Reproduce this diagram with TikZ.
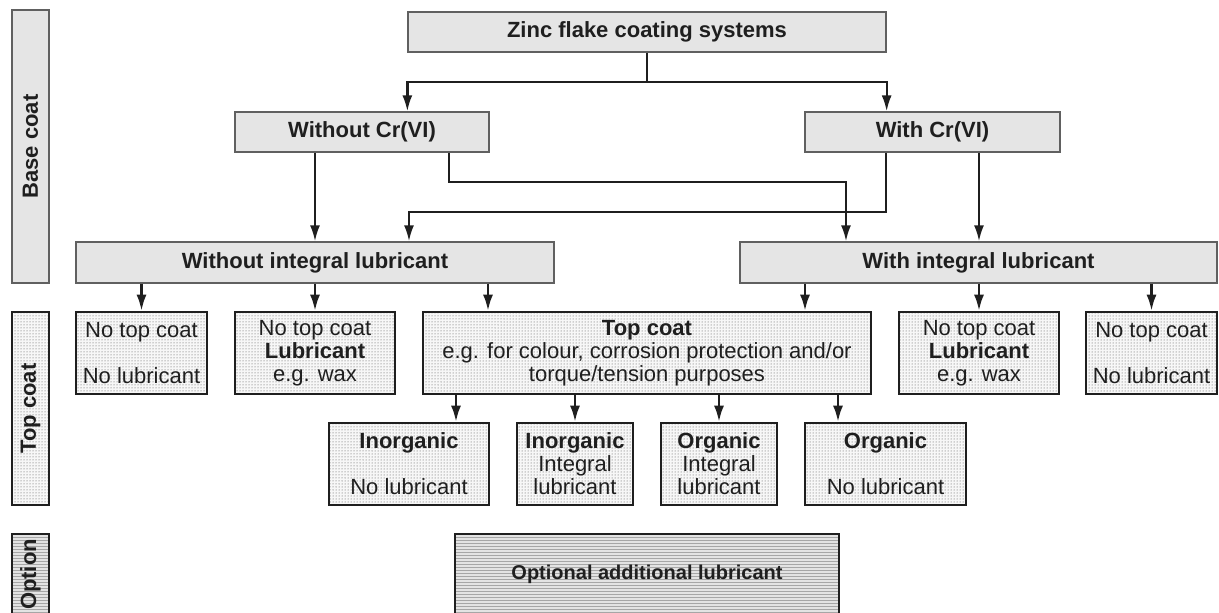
\documentclass[tikz,border=0pt]{standalone}
\usepackage{fontspec}
\setmainfont{Liberation Sans}
\usetikzlibrary{arrows.meta,patterns}
\begin{document}
\begin{tikzpicture}[x=1pt,y=-1pt,
  basebox/.style={draw=gray!75!black, line width=1.3pt, fill=gray!20, minimum height=40pt, inner sep=0pt,
    font=\fontsize{22}{23}\selectfont\bfseries, text=black!88},
  topbox/.style={draw=black!88, line width=2.6pt, preaction={fill=gray!6}, pattern=dots, pattern color=black!70,
    minimum height=82pt, inner sep=0pt, align=center, font=\fontsize{22}{23}\selectfont, text=black!88},
  optbox/.style={draw=black!88, line width=2.6pt, preaction={fill=gray!22}, pattern=horizontal lines,
    pattern color=black!35, inner sep=0pt, font=\fontsize{20}{22}\selectfont\bfseries, text=black!88},
  sidelabel/.style={rotate=90, minimum height=37pt, inner sep=0pt, font=\fontsize{22}{23}\selectfont\bfseries, text=black!88},
  conn/.style={line width=2.3pt, draw=black!88},
  arr/.style={conn, -{Latex[length=16pt,width=10pt]}}
]
\useasboundingbox (0,0) rectangle (1219,613);
\clip (0,0) rectangle (1219,613);

% side labels
\node[sidelabel, basebox, minimum width=273pt, minimum height=37pt] (sBase) at (30.5,146.5) {Base coat};
\node[sidelabel, topbox, minimum width=193pt, minimum height=37pt] (sTop) at (30.5,408.5) {\bfseries Top coat};
\node[sidelabel, optbox, minimum width=81pt, minimum height=37pt, font=\fontsize{22}{23}\selectfont\bfseries] (sOpt) at (30.5,574.5) {Option};

% base coat level
\node[basebox, minimum width=478pt] (zinc) at (647,32) {Zinc flake coating systems};
\node[basebox, minimum width=254pt] (woCr) at (362,132) {Without Cr(VI)};
\node[basebox, minimum width=255pt] (wCr) at (932.5,132) {With Cr(VI)};
\node[basebox, minimum width=478pt, minimum height=41pt] (woInt) at (315,262.5) {Without integral lubricant};
\node[basebox, minimum width=477pt, minimum height=41pt] (wInt) at (978.5,262.5) {With integral lubricant};

% top coat level
\node[topbox, minimum width=131pt] (nt1) at (141.5,353) {No top coat\\[23pt]No lubricant};
\node[topbox, minimum width=160pt] (nt2) at (315,353) {No top coat\\\textbf{Lubricant}\\e.g. wax};
\node[topbox, minimum width=448pt] (tc) at (647,353) {\textbf{Top coat}\\e.g. for colour, corrosion protection and/or\\torque/tension purposes};
\node[topbox, minimum width=160pt] (nt3) at (979,353) {No top coat\\\textbf{Lubricant}\\e.g. wax};
\node[topbox, minimum width=131pt] (nt4) at (1151.5,353) {No top coat\\[23pt]No lubricant};

\node[topbox, minimum width=160pt] (inNo) at (409,464) {\textbf{Inorganic}\\[23pt]No lubricant};
\node[topbox, minimum width=116pt] (inInt) at (575,464) {\textbf{Inorganic}\\Integral\\lubricant};
\node[topbox, minimum width=116pt] (orInt) at (719,464) {\textbf{Organic}\\Integral\\lubricant};
\node[topbox, minimum width=161pt] (orNo) at (885.5,464) {\textbf{Organic}\\[23pt]No lubricant};

% option level
\node[optbox, minimum width=384pt, minimum height=81pt] (opt) at (647,574.5) {Optional additional lubricant};

% helper coordinates
\coordinate (j1) at (647,82);
\coordinate (k1) at (449,182);
\coordinate (k2) at (846,182);
\coordinate (k3) at (409,212);
\coordinate (k4) at (886,212);
\coordinate (m1) at (488,0);
\coordinate (m2) at (805,0);
\coordinate (p1) at (456,0);
\coordinate (p4) at (838,0);

% connectors
\draw[conn] (zinc.south) -- (j1);
\draw[arr] (j1) -| (woCr.north -| zinc.west);
\draw[arr] (j1) -| (wCr.north -| zinc.east);

\draw[arr] (woCr.south -| woInt.north) -- (woInt.north);
\draw[arr] (woCr.south -| k1) -- (k1) -- (k2) -- (wInt.north -| k2);
\draw[arr] (wCr.south -| k4) -- (k4) -- (k3) -- (woInt.north -| k3);
\draw[arr] (wCr.south -| nt3.north) -- (wInt.north -| nt3.north);

\draw[arr] (woInt.south -| nt1.north) -- (nt1.north);
\draw[arr] (woInt.south -| nt2.north) -- (nt2.north);
\draw[arr] (woInt.south -| m1) -- (tc.north -| m1);
\draw[arr] (wInt.south -| m2) -- (tc.north -| m2);
\draw[arr] (wInt.south -| nt3.north) -- (nt3.north);
\draw[arr] (wInt.south -| nt4.north) -- (nt4.north);

\draw[arr] (tc.south -| p1) -- (inNo.north -| p1);
\draw[arr] (tc.south -| inInt.north) -- (inInt.north);
\draw[arr] (tc.south -| orInt.north) -- (orInt.north);
\draw[arr] (tc.south -| p4) -- (orNo.north -| p4);
\end{tikzpicture}
\end{document}
